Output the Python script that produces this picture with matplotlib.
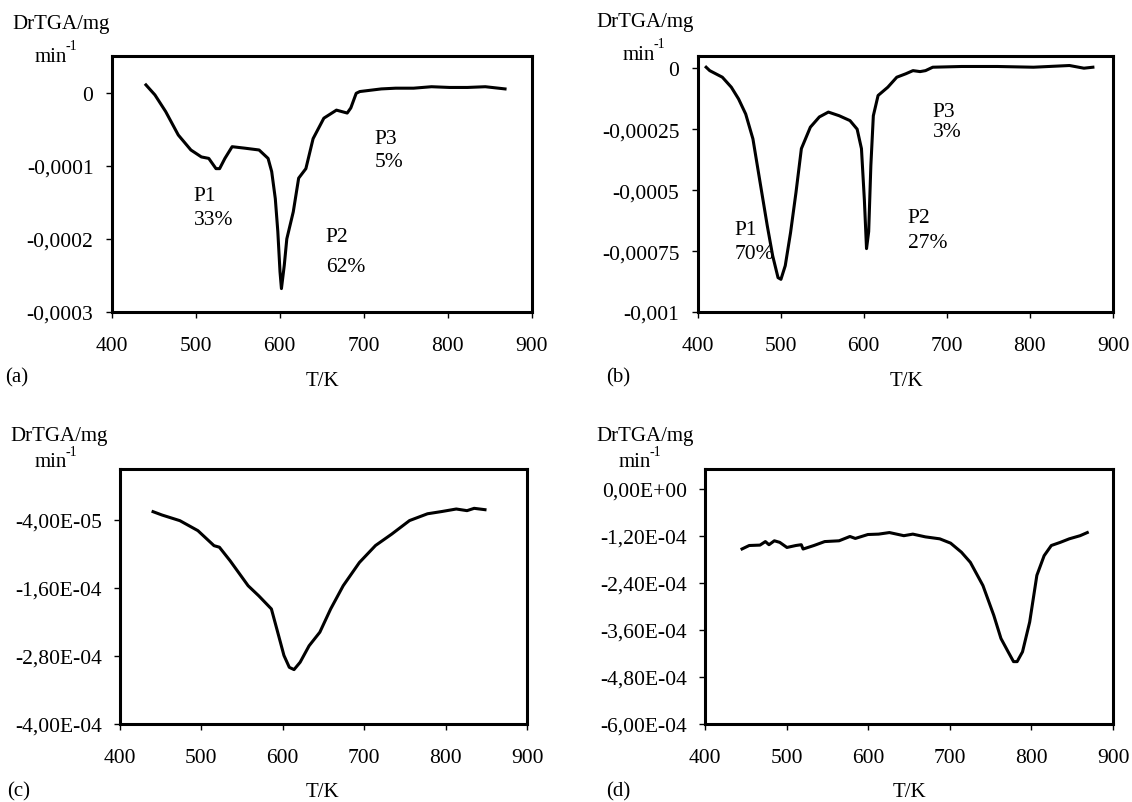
import numpy as np
import matplotlib
matplotlib.use('Agg')
import matplotlib.pyplot as plt

plt.rcParams['font.family'] = ['Liberation Serif', 'DejaVu Serif']
plt.rcParams['font.size'] = 15.5

# (a)
ta = [441, 451.7, 464.5, 479.5, 494.5, 507, 515.8, 524.4, 528.7, 535, 543.6, 558.6,
      575.7, 586.4, 590.7, 595, 598, 600.6, 602.3, 605.7, 608.7, 616.4, 622.8, 631.4,
      640, 652.8, 667.8, 680.6, 684.9, 691.3, 695.6, 721.2, 738.3, 759.6, 781, 802.4,
      823.7, 845, 868.5]
da = [1.05e-5, -0.32e-5, -2.6e-5, -5.8e-5, -7.85e-5, -8.8e-5, -9.0e-5, -1.04e-4, -1.04e-4,
      -9.0e-5, -7.4e-5, -7.6e-5, -7.85e-5, -9.0e-5, -1.08e-4, -1.45e-4, -1.9e-4, -2.45e-4,
      -2.68e-4, -2.36e-4, -2.0e-4, -1.63e-4, -1.17e-4, -1.04e-4, -6.3e-5, -3.5e-5, -2.4e-5,
      -2.8e-5, -2.1e-5, -0.1e-5, 0.14e-5, 0.5e-5, 0.6e-5, 0.6e-5, 0.8e-5, 0.7e-5, 0.7e-5,
      0.8e-5, 0.5e-5]

# (b)
tb = [410.4, 414.7, 429.9, 440.7, 449.4, 458, 466.7, 475.3, 484, 490.5, 496.9, 500.4,
      505.6, 512, 518.5, 525, 535.8, 546.6, 557.5, 570.5, 583.5, 592.1, 597.3, 600.8,
      603.4, 606, 608.6, 611.6, 617.3, 629, 639.8, 650.6, 659.3, 667.9, 674.4, 683.1,
      717.7, 761, 804.3, 847.6, 865, 875.8]
db = [0.4e-5, -1.0e-5, -3.7e-5, -7.8e-5, -1.26e-4, -1.88e-4, -2.9e-4, -4.68e-4, -6.47e-4,
      -7.7e-4, -8.59e-4, -8.66e-4, -8.1e-4, -6.74e-4, -5.1e-4, -3.3e-4, -2.42e-4, -2.0e-4,
      -1.8e-4, -1.95e-4, -2.15e-4, -2.5e-4, -3.3e-4, -5.4e-4, -7.4e-4, -6.7e-4, -4.0e-4,
      -1.95e-4, -1.12e-4, -7.8e-5, -3.7e-5, -2.3e-5, -1.0e-5, -1.4e-5, -1.0e-5, 0.4e-5,
      0.7e-5, 0.7e-5, 0.4e-5, 1.1e-5, 0.0, 0.4e-5]

# (c)
tc = [440.6, 451.6, 473.6, 495.7, 515.5, 522.1, 535.3, 557.4, 570.6, 586, 592.6, 601.4,
      608, 613.8, 621.3, 632.3, 645.5, 658.8, 674.2, 694.1, 713.9, 733.7, 755.7, 777.8,
      795.5, 813.1, 826.3, 835.1, 848.4]
dc = [-2.53e-5, -3.12e-5, -4.12e-5, -5.88e-5, -8.53e-5, -8.8e-5, -1.12e-4, -1.56e-4,
      -1.74e-4, -1.97e-4, -2.32e-4, -2.79e-4, -3.0e-4, -3.04e-4, -2.91e-4, -2.62e-4,
      -2.38e-4, -1.97e-4, -1.56e-4, -1.15e-4, -8.5e-5, -6.5e-5, -4.1e-5, -2.9e-5, -2.5e-5,
      -2.06e-5, -2.35e-5, -1.94e-5, -2.18e-5]

# (d)
td = [445.4, 454.2, 467.4, 474, 478.4, 485, 491.6, 500.4, 511.4, 518, 520.2, 533.5,
      546.7, 564.3, 577.6, 584.2, 599.6, 612.8, 626, 643.7, 654.7, 670.1, 687.7, 701,
      714.2, 725.2, 740.6, 753.9, 762.7, 771.5, 778.1, 782.5, 789.1, 797.9, 806.7, 815.6,
      824.4, 835.4, 846.4, 859.7, 868.5]
dd = [-1.538e-4, -1.45e-4, -1.44e-4, -1.35e-4, -1.43e-4, -1.33e-4, -1.37e-4, -1.5e-4,
      -1.45e-4, -1.43e-4, -1.54e-4, -1.45e-4, -1.35e-4, -1.33e-4, -1.22e-4, -1.27e-4,
      -1.17e-4, -1.16e-4, -1.12e-4, -1.2e-4, -1.16e-4, -1.23e-4, -1.28e-4, -1.39e-4,
      -1.62e-4, -1.88e-4, -2.47e-4, -3.23e-4, -3.82e-4, -4.16e-4, -4.41e-4, -4.41e-4,
      -4.16e-4, -3.4e-4, -2.21e-4, -1.71e-4, -1.45e-4, -1.37e-4, -1.28e-4, -1.2e-4,
      -1.12e-4]

xticks = [400, 500, 600, 700, 800, 900]

yt_a = [0, -0.0001, -0.0002, -0.0003]
yl_a = ['0', '-0,0001', '-0,0002', '-0,0003']
yt_b = [0, -0.00025, -0.0005, -0.00075, -0.001]
yl_b = ['0', '-0,00025', '-0,0005', '-0,00075', '-0,001']
yt_c = [-4e-5, -1.6e-4, -2.8e-4, -4e-4]
yl_c = ['-4,00E-05', '-1,60E-04', '-2,80E-04', '-4,00E-04']
yt_d = [0, -1.2e-4, -2.4e-4, -3.6e-4, -4.8e-4, -6e-4]
yl_d = ['0,00E+00', '-1,20E-04', '-2,40E-04', '-3,60E-04', '-4,80E-04', '-6,00E-04']

# peak labels: (text, x, y)
notes_a = [('P1', 498, -0.000141), ('33%', 498, -0.000173),
           ('P2', 655, -0.000197), ('62%', 655, -0.000238),
           ('P3', 713, -0.000063), ('5%', 713, -0.0000945)]
notes_b = [('P1', 445, -0.00066), ('70%', 445, -0.000762),
           ('P2', 653, -0.000611), ('27%', 653, -0.000713),
           ('P3', 683, -0.000176), ('3%', 683, -0.000258)]

W, H = 1132, 803
fig = plt.figure(figsize=(11.32, 8.03), dpi=100)


def fx(x):
    return x / W


def fy(y):
    return 1 - y / H


def panel(rect, t, d, ylim, yt, yl, notes, tag, lab_px):
    l, top, r, b = rect
    ax = fig.add_axes([fx(l), fy(b), (r - l) / W, (b - top) / H])
    ax.plot(t, d, color='black', lw=2.2)
    ax.set_xlim(400, 900)
    ax.set_ylim(*ylim)
    ax.set_xticks(xticks)
    ax.set_yticks(yt)
    ax.set_yticklabels(yl)
    for s in ax.spines.values():
        s.set_linewidth(2.2)
    ax.tick_params(direction='out', length=4.5, width=1.0)
    ax.tick_params(axis='x', pad=13)
    ax.tick_params(axis='y', pad=8.5)
    for txt, x, y in notes:
        ax.text(x, y, txt, ha='left', va='center')
    # axis titles and panel tag
    (dx, dy), (mx, my), (tx, ty), (kx, ky) = lab_px
    fig.text(fx(dx), fy(dy), 'DrTGA/mg', ha='left', va='center', fontsize=15)
    fig.text(fx(mx), fy(my), 'min', ha='left', va='center', fontsize=15)
    fig.text(fx(mx + 31), fy(my - 10), '-1', ha='left', va='center', fontsize=10)
    fig.text(fx(tx), fy(ty), tag, ha='left', va='center', fontsize=15)
    fig.text(fx(kx), fy(ky), 'T/K', ha='center', va='center', fontsize=15)
    return ax


panel((111.5, 57, 531.5, 313), ta, da, (-0.0003, 0.00005), yt_a, yl_a, notes_a, '(a)',
      ((12, 25), (35, 57), (5, 378), (322, 382)))
panel((697.5, 57, 1113, 313), tb, db, (-0.001, 0.00005), yt_b, yl_b, notes_b, '(b)',
      ((596, 23), (623, 55), (606, 378), (906, 382)))
panel((120, 470, 527, 725), tc, dc, (-0.0004, 0.00005), yt_c, yl_c, [], '(c)',
      ((10, 437), (35, 463), (7, 792), (322, 793)))
panel((705, 470, 1113, 725), td, dd, (-0.0006, 0.00005), yt_d, yl_d, [], '(d)',
      ((596, 437), (619, 463), (606, 792), (909, 793)))

fig.savefig('out.png', dpi=100)
